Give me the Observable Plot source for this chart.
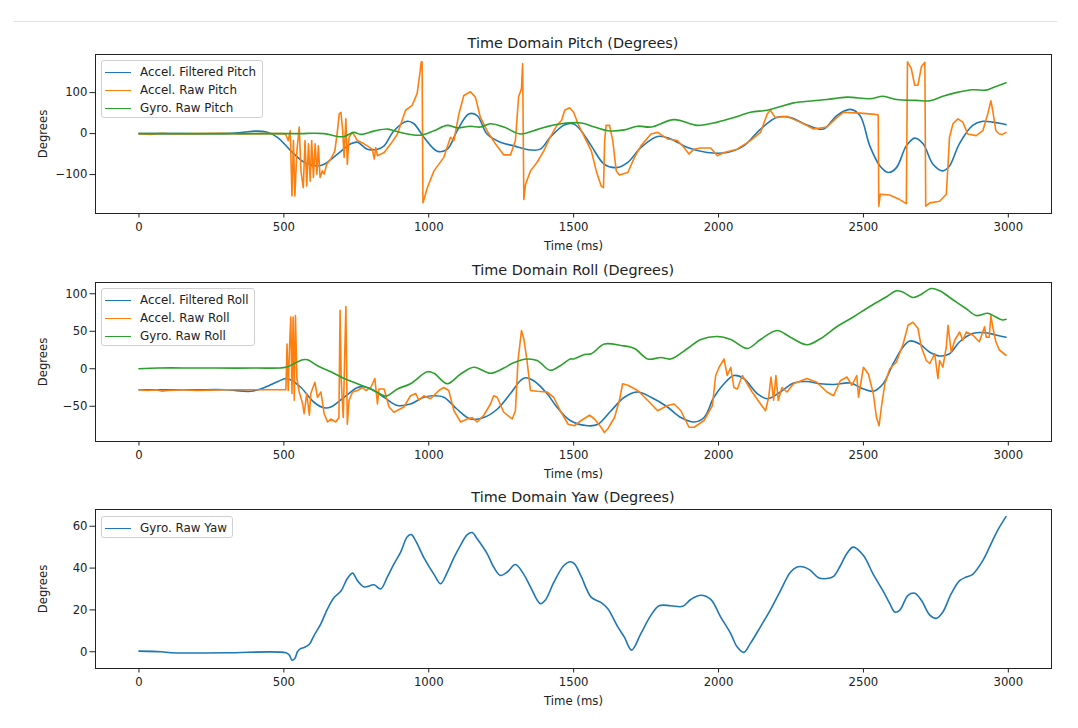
<!DOCTYPE html>
<html>
<head>
<meta charset="utf-8">
<script src="https://cdn.jsdelivr.net/npm/d3@7"></script>
<script src="https://cdn.jsdelivr.net/npm/@observablehq/plot@0.6"></script>
<style>
  html, body { margin: 0; padding: 0; background: #fff; }
  #root { position: relative; width: 1078px; height: 728px; overflow: hidden; font-family: "DejaVu Sans", sans-serif; color: #222; }
  .sep { position: absolute; left: 13px; top: 21px; width: 1044px; height: 1px; background: #e2e2e2; }
  .panel { position: absolute; left: 0; }
  .title { position: absolute; left: 95px; width: 956px; text-align: center; font-size: 14.4px; line-height: 1; }
  .legend { position: absolute; left: 101px; background: rgba(255,255,255,0.85); border: 1px solid #d0d0d0; border-radius: 3px; box-sizing: border-box; }
  .row { position: absolute; left: 0; height: 14px; display: flex; align-items: center; font-size: 11.9px; white-space: nowrap; }
  .sw { display: inline-block; width: 26px; height: 0; border-top: 1.7px solid; margin-left: 3px; margin-right: 9px; }
</style>
</head>
<body>
<div id="root"><div class="sep"></div></div>
<script>
const xTicks = [0, 500, 1000, 1500, 2000, 2500, 3000];
const pitchTicks = [-100, 0, 100];
const rollTicks = [-50, 0, 50, 100];
const yawTicks = [0, 20, 40, 60];
const colors = ["#1f77b4", "#ff7f0e", "#2ca02c"];
const titles = ["Time Domain Pitch (Degrees)", "Time Domain Roll (Degrees)", "Time Domain Yaw (Degrees)"];
const pitchNames = ["Accel. Filtered Pitch", "Accel. Raw Pitch", "Gyro. Raw Pitch"];
const rollNames = ["Accel. Filtered Roll", "Accel. Raw Roll", "Gyro. Raw Roll"];
const yawNames = ["Gyro. Raw Yaw"];

// [time (ms), degrees]
const pitchFiltered = [[0,0],[150,0],[300,0],[360,3],[400,6],[440,4],[478,-9],[524,-42],[570,-70],[616,-79],[639,-75],[685,-50],[731,-25],[754,-21],[788,-38],[823,-38],[846,-30],[880,7],[926,30],[949,24],[983,-9],[1029,-43],[1064,-38],[1098,7],[1138,48],[1167,44],[1201,-1],[1247,-21],[1293,-30],[1351,-40],[1385,-38],[1419,-9],[1465,20],[1490,25],[1505,22],[1526,7],[1561,-30],[1606,-75],[1647,-83],[1687,-70],[1732,-34],[1790,-7],[1835,-13],[1893,-34],[1961,-46],[2030,-46],[2087,-30],[2145,11],[2202,40],[2248,39],[2305,21],[2362,11],[2408,44],[2454,59],[2488,44],[2522,-30],[2557,-79],[2586,-95],[2614,-83],[2648,-30],[2677,-11],[2706,-25],[2740,-75],[2774,-91],[2797,-79],[2831,-25],[2877,20],[2912,30],[2946,28],[2992,22]];
const pitchRaw = [[0,0],[40,-2],[80,1],[120,-1],[200,0],[280,1],[350,-1],[420,0],[500,0],[507,-3],[515,-17],[522,7],[528,-152],[533,-17],[538,-152],[545,-42],[553,16],[559,-91],[567,-132],[573,-17],[579,-128],[585,-25],[591,-116],[596,-17],[602,-107],[608,-25],[614,-99],[619,-30],[625,-107],[633,-91],[639,-99],[648,-75],[662,-62],[676,-42],[685,7],[691,48],[697,52],[703,7],[708,-58],[714,36],[719,-75],[725,-9],[737,3],[754,-17],[777,-25],[805,-38],[812,-62],[817,-34],[823,-54],[846,-46],[869,-25],[892,-1],[920,57],[943,69],[960,98],[970,150],[974,175],[977,175],[980,-169],[995,-132],[1018,-91],[1052,-58],[1075,-9],[1087,-17],[1104,48],[1121,93],[1144,102],[1161,89],[1178,40],[1201,7],[1230,-25],[1259,-52],[1282,-52],[1299,-17],[1310,89],[1320,110],[1324,171],[1328,-161],[1334,-124],[1351,-91],[1374,-70],[1397,-42],[1419,-9],[1442,20],[1458,32],[1469,57],[1486,63],[1500,52],[1515,24],[1538,-9],[1561,-42],[1578,-91],[1595,-128],[1603,-132],[1607,-17],[1612,20],[1624,20],[1635,-17],[1647,-91],[1658,-101],[1687,-95],[1710,-58],[1732,-30],[1767,-1],[1790,3],[1824,-13],[1858,-17],[1881,-34],[1898,-50],[1915,-38],[1938,-35],[1973,-35],[1996,-54],[2019,-46],[2064,-38],[2110,-17],[2145,3],[2168,48],[2179,57],[2196,39],[2236,42],[2282,28],[2328,11],[2374,16],[2408,39],[2431,52],[2488,50],[2540,47],[2551,45],[2553,-177],[2558,-148],[2590,-150],[2625,-161],[2648,-171],[2652,175],[2665,159],[2677,118],[2688,118],[2700,163],[2712,174],[2715,-177],[2729,-169],[2763,-165],[2786,-148],[2792,-75],[2797,-9],[2809,24],[2826,36],[2843,28],[2860,-1],[2889,-5],[2912,7],[2929,48],[2940,80],[2946,57],[2957,7],[2969,-1],[2980,-2],[2992,3]];
const pitchGyro = [[0,0],[200,0],[400,0],[560,0],[600,1],[640,0],[685,-7],[708,-7],[742,3],[765,-2],[811,6],[857,11],[880,7],[914,1],[972,-4],[1018,7],[1064,20],[1098,14],[1144,18],[1178,16],[1213,24],[1259,16],[1316,-1],[1362,7],[1408,17],[1458,24],[1526,26],[1572,16],[1618,7],[1675,9],[1721,18],[1767,16],[1847,34],[1927,20],[1996,28],[2053,39],[2110,52],[2168,57],[2214,66],[2259,75],[2328,80],[2374,83],[2443,89],[2522,85],[2568,91],[2614,83],[2683,81],[2729,80],[2774,91],[2820,100],[2877,107],[2923,106],[2946,112],[2992,124]];

const rollFiltered = [[0,-28],[100,-28],[200,-28],[300,-28],[387,-30],[433,-25],[479,-17],[507,-13],[524,-15],[559,-25],[605,-45],[639,-52],[662,-51],[708,-38],[754,-25],[777,-24],[811,-29],[846,-38],[892,-49],[937,-47],[983,-38],[1018,-36],[1052,-38],[1098,-54],[1144,-67],[1190,-65],[1236,-54],[1282,-33],[1316,-16],[1333,-12],[1362,-16],[1408,-33],[1442,-51],[1488,-69],[1549,-76],[1584,-74],[1629,-56],[1675,-38],[1721,-31],[1767,-38],[1824,-51],[1870,-65],[1916,-71],[1950,-65],[1984,-38],[2019,-20],[2053,-9],[2087,-13],[2133,-33],[2168,-40],[2213,-31],[2259,-19],[2305,-17],[2351,-20],[2397,-21],[2454,-19],[2500,-27],[2534,-30],[2568,-20],[2603,7],[2637,29],[2660,37],[2694,33],[2729,22],[2763,17],[2797,20],[2832,36],[2877,47],[2923,48],[2957,45],[2992,42]];
const rollRaw = [[0,-28],[30,-29],[60,-28],[80,-30],[100,-29],[150,-28],[200,-29],[300,-28],[400,-28],[507,-28],[511,33],[515,-29],[520,33],[524,69],[528,-33],[532,69],[536,-42],[540,71],[545,-13],[553,-31],[565,-47],[570,-60],[579,-33],[588,-62],[593,-33],[607,-18],[616,-38],[628,-31],[639,-60],[651,-71],[662,-67],[679,-71],[690,-65],[694,78],[698,-16],[705,-65],[714,83],[719,-74],[725,-42],[737,-31],[754,-29],[771,-25],[783,-29],[800,-25],[814,-13],[823,-47],[828,-27],[846,-27],[863,-51],[880,-58],[914,-51],[937,-36],[955,-33],[966,-42],[983,-36],[1006,-40],[1035,-29],[1052,-25],[1069,-29],[1087,-56],[1110,-71],[1133,-67],[1150,-65],[1167,-71],[1190,-62],[1213,-47],[1224,-36],[1236,-38],[1259,-58],[1288,-67],[1299,-56],[1308,11],[1320,51],[1328,40],[1339,11],[1351,-29],[1374,-30],[1408,-31],[1431,-38],[1454,-56],[1481,-74],[1503,-76],[1526,-69],[1555,-62],[1572,-67],[1595,-78],[1606,-85],[1618,-80],[1641,-65],[1658,-42],[1669,-20],[1687,-22],[1721,-29],[1755,-42],[1790,-56],[1824,-49],[1847,-47],[1870,-56],[1898,-78],[1916,-78],[1950,-69],[1979,-49],[1990,-9],[2002,2],[2019,13],[2030,-9],[2042,2],[2053,-25],[2065,-27],[2082,-9],[2099,-20],[2116,-31],[2145,-47],[2162,-56],[2173,-38],[2181,-11],[2190,-42],[2198,-9],[2206,-42],[2219,-25],[2236,-31],[2259,-20],[2305,-13],[2339,-18],[2374,-31],[2397,-36],[2420,-16],[2443,-11],[2460,-22],[2477,-9],[2483,-38],[2500,2],[2517,-7],[2534,-33],[2545,-65],[2554,-76],[2562,-51],[2574,-20],[2591,0],[2614,9],[2637,33],[2654,58],[2671,62],[2688,54],[2700,29],[2717,11],[2729,7],[2746,20],[2757,-13],[2763,11],[2774,2],[2786,29],[2792,58],[2803,22],[2815,38],[2832,49],[2843,38],[2855,49],[2877,45],[2900,36],[2918,56],[2924,42],[2934,42],[2940,71],[2946,56],[2957,36],[2969,25],[2992,18]];
const rollGyro = [[0,0],[70,1],[200,1],[400,1],[507,2],[536,7],[565,12],[582,12],[616,4],[662,-4],[708,-13],[754,-20],[800,-27],[846,-36],[857,-36],[892,-27],[937,-20],[995,-4],[1018,-6],[1064,-20],[1110,-7],[1156,2],[1213,-6],[1259,1],[1293,8],[1339,13],[1374,11],[1419,-2],[1454,4],[1488,13],[1500,13],[1538,19],[1561,20],[1606,33],[1664,31],[1710,27],[1756,13],[1801,15],[1835,13],[1893,27],[1939,39],[1996,43],[2042,39],[2099,27],[2145,39],[2202,51],[2248,42],[2305,32],[2351,40],[2408,56],[2465,69],[2522,83],[2580,96],[2614,104],[2637,102],[2671,95],[2694,98],[2734,107],[2763,104],[2809,92],[2855,80],[2889,71],[2929,74],[2957,69],[2980,65],[2992,66]];

const yawGyro = [[0,0.3],[77,0],[111,-0.5],[300,-0.5],[507,-0.5],[519,-1.6],[528,-4],[538,-3.2],[547,0],[559,1.6],[570,2],[588,3.6],[605,8],[628,13.5],[651,20.6],[674,26],[697,29],[719,35],[737,37.6],[754,34],[777,31],[811,32],[834,30],[857,35.7],[880,42],[903,47.6],[926,55],[940,56],[955,53],[983,45],[1018,37],[1041,32.5],[1064,38],[1087,45],[1110,51],[1133,56],[1150,57],[1167,54],[1201,47],[1224,40.5],[1247,36.5],[1270,38],[1299,41.7],[1328,37],[1351,31],[1385,23],[1402,24.6],[1431,33],[1465,41],[1488,43],[1503,42],[1526,36],[1561,26],[1595,23.5],[1618,20.6],[1652,12],[1675,7],[1700,0.8],[1732,8.7],[1767,17.5],[1795,22],[1835,22],[1876,21.7],[1904,25],[1939,27],[1973,25],[2007,16.7],[2042,8.7],[2064,2.4],[2087,-0.3],[2110,4],[2145,12],[2179,20],[2213,29],[2248,38],[2271,40.5],[2294,40.5],[2316,39],[2345,35.4],[2374,35],[2397,36],[2420,41],[2443,47],[2465,50],[2500,46],[2534,37],[2568,29],[2591,23],[2608,19],[2625,19.8],[2654,27],[2677,28],[2700,24.6],[2729,17.5],[2752,16],[2774,19],[2803,27.8],[2832,34],[2855,35.7],[2877,37],[2912,43.6],[2935,50],[2963,58],[2992,64.6]];

const root = document.getElementById("root");
const fmt = d => String(d).replace("-", "\u2212");

function panel(cfg) {
  const chart = Plot.plot({
    width: 1078, height: cfg.height,
    marginLeft: 95, marginRight: 27, marginTop: cfg.marginTop, marginBottom: cfg.marginBottom,
    x: {domain: [-150, 3149]},
    y: {domain: cfg.yDomain},
    style: {fontFamily: "DejaVu Sans", fontSize: "11.7px", color: "#222", background: "white", overflow: "visible"},
    marks: [
      ...cfg.series.map(s => Plot.line(s.data, {x: d => d[0], y: d => d[1], stroke: s.color, strokeWidth: 1.6, curve: s.curve || "linear"})),
      Plot.frame({stroke: "#222", strokeWidth: 1}),
      Plot.axisX({ticks: xTicks, tickFormat: fmt, tickSize: 4.5, tickPadding: 5, label: "Time (ms)", labelAnchor: "center", labelArrow: "none", labelOffset: 36}),
      Plot.axisY({ticks: cfg.yTicks, tickFormat: fmt, tickSize: 5.5, tickPadding: 2.5, label: "Degrees", labelAnchor: "center", labelArrow: "none", labelOffset: 57})
    ]
  });
  const wrap = document.createElement("div");
  wrap.className = "panel";
  wrap.style.top = cfg.top + "px";
  wrap.appendChild(chart);
  root.appendChild(wrap);

  const t = document.createElement("div");
  t.className = "title";
  t.style.top = (cfg.titleY - 7.5) + "px";
  t.textContent = cfg.title;
  root.appendChild(t);

  const lg = document.createElement("div");
  lg.className = "legend";
  lg.style.top = cfg.legend.top + "px";
  lg.style.width = cfg.legend.width + "px";
  lg.style.height = cfg.legend.height + "px";
  cfg.names.forEach((n, i) => {
    const r = document.createElement("div");
    r.className = "row";
    r.style.top = (4 + i * 18.2) + "px";
    const sw = document.createElement("span");
    sw.className = "sw";
    sw.style.borderColor = colors[i];
    const tx = document.createElement("span");
    tx.textContent = n;
    r.appendChild(sw); r.appendChild(tx);
    lg.appendChild(r);
  });
  root.appendChild(lg);
}

panel({
  top: 30, height: 230, marginTop: 24, marginBottom: 47,
  yDomain: [-195, 193], yTicks: pitchTicks, title: titles[0], titleY: 43,
  names: pitchNames, legend: {top: 60, width: 162, height: 58},
  series: [
    {data: pitchFiltered, color: colors[0], curve: "catmull-rom"},
    {data: pitchRaw, color: colors[1]},
    {data: pitchGyro, color: colors[2], curve: "catmull-rom"}
  ]
});
panel({
  top: 260, height: 225, marginTop: 22, marginBottom: 44,
  yDomain: [-97, 115], yTicks: rollTicks, title: titles[1], titleY: 270,
  names: rollNames, legend: {top: 288, width: 154, height: 58},
  series: [
    {data: rollFiltered, color: colors[0], curve: "catmull-rom"},
    {data: rollRaw, color: colors[1]},
    {data: rollGyro, color: colors[2], curve: "catmull-rom"}
  ]
});
panel({
  top: 487, height: 241, marginTop: 22, marginBottom: 60,
  yDomain: [-8, 68], yTicks: yawTicks, title: titles[2], titleY: 497,
  names: yawNames, legend: {top: 516, width: 132, height: 22},
  series: [
    {data: yawGyro, color: colors[0], curve: "catmull-rom"}
  ]
});
</script>
</body>
</html>
